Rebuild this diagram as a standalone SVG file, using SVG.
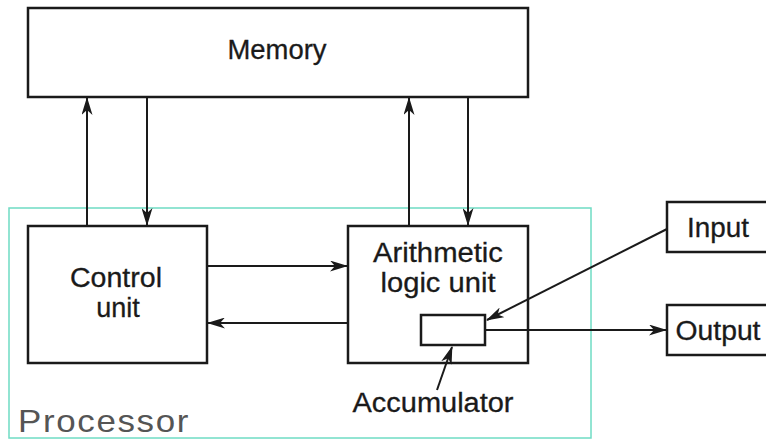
<svg xmlns="http://www.w3.org/2000/svg" width="766" height="439" viewBox="0 0 766 439">
<style>
.box{fill:#fff;stroke:#1a1a1a;stroke-width:2.5}
.ln{stroke:#1a1a1a;stroke-width:2;fill:none}
.t{font-family:"Liberation Sans",Arial,sans-serif;font-size:27px;fill:#1a1a1a;text-anchor:middle;stroke:#1a1a1a;stroke-width:0.3}
</style>
<defs>
<marker id="ah" viewBox="0 0 18 11" refX="17" refY="5.5" markerWidth="18" markerHeight="11" markerUnits="userSpaceOnUse" orient="auto">
<path d="M0,0 L18,5.5 L0,11 L5,5.5 z" fill="#1a1a1a"/>
</marker>
</defs>
<rect width="766" height="439" fill="#fff"/>
<g id="processor">
<rect x="9" y="208" width="582" height="230" fill="none" stroke="#6fdcc4" stroke-width="1.5"/>
<text x="18" y="432" style="font-family:'Liberation Sans',Arial,sans-serif;font-size:32px;fill:#555;letter-spacing:1.5px" textLength="172" lengthAdjust="spacingAndGlyphs">Processor</text>
</g>
<g id="memory">
<rect class="box" x="28" y="8" width="500" height="89"/>
<text class="t" x="277" y="59" textLength="99" lengthAdjust="spacingAndGlyphs">Memory</text>
</g>
<g id="control">
<rect class="box" x="28" y="226" width="179" height="137"/>
<text class="t" x="116" y="287" textLength="92" lengthAdjust="spacingAndGlyphs">Control</text>
<text class="t" x="118" y="317">unit</text>
</g>
<g id="alu">
<rect class="box" x="348" y="226" width="180" height="137"/>
<text class="t" x="438" y="262" textLength="130" lengthAdjust="spacingAndGlyphs">Arithmetic</text>
<text class="t" x="438" y="292" textLength="115" lengthAdjust="spacingAndGlyphs">logic unit</text>
</g>
<g id="accumulator">
<rect class="box" x="421" y="315" width="64" height="30"/>
<text class="t" x="433" y="412" textLength="161" lengthAdjust="spacingAndGlyphs">Accumulator</text>
</g>
<g id="input">
<rect class="box" x="667" y="202" width="110" height="50"/>
<text class="t" x="718" y="237" textLength="62" lengthAdjust="spacingAndGlyphs">Input</text>
</g>
<g id="output">
<rect class="box" x="667" y="305" width="110" height="50"/>
<text class="t" x="718" y="340" textLength="85" lengthAdjust="spacingAndGlyphs">Output</text>
</g>
<g id="connectors">
<line class="ln" x1="87" y1="226" x2="87" y2="98" marker-end="url(#ah)"/>
<line class="ln" x1="147" y1="97" x2="147" y2="225" marker-end="url(#ah)" stroke-width="2.5"/>
<line class="ln" x1="409" y1="226" x2="409" y2="98" marker-end="url(#ah)"/>
<line class="ln" x1="468" y1="97" x2="468" y2="225" marker-end="url(#ah)"/>
<line class="ln" x1="207" y1="266" x2="347" y2="266" marker-end="url(#ah)"/>
<line class="ln" x1="348" y1="323" x2="208" y2="323" marker-end="url(#ah)"/>
<line class="ln" x1="667" y1="229" x2="487" y2="320" marker-end="url(#ah)" stroke-width="2.5"/>
<line class="ln" x1="485" y1="330" x2="666" y2="330" marker-end="url(#ah)"/>
<line class="ln" x1="437" y1="390" x2="452" y2="347" marker-end="url(#ah)"/>
</g>
</svg>
